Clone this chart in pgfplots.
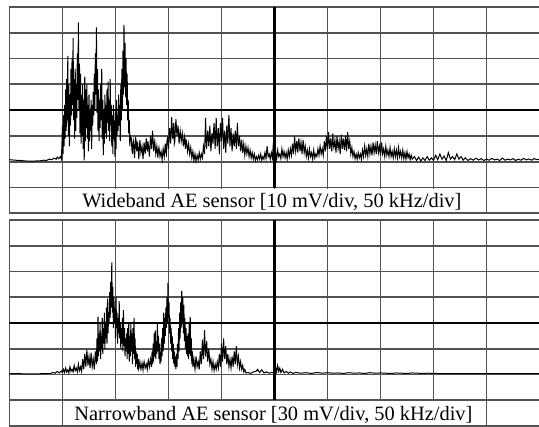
\documentclass[border=0pt]{standalone}
\usepackage{pgfplots}
\pgfplotsset{compat=1.18}
\usepackage{fontspec}
\setmainfont{Liberation Serif}

% oscilloscope-like panel: 10 x 8 divisions, trace baseline at 0
\pgfplotsset{scope/.style={
  scale only axis, width=530pt,
  xmin=0, xmax=10, ymin=-2, ymax=6,
  xtick={0,...,10}, ytick={-2,...,6},
  xticklabel=\empty, yticklabel=\empty,
  major tick length=0pt,
  grid=major,
  major grid style={black!68, line width=1.8pt},
  axis line style={black!68, line width=1.8pt},
  anchor=south west,
}}

\begin{document}
\begin{tikzpicture}
\useasboundingbox (0,0) rectangle (539pt,427pt);

% ---- wideband ----
\begin{axis}[scope, height=206.6pt, at={(9.5pt,213.6pt)}]
\draw[black, line width=2.3pt] (axis cs:0,2) -- (axis cs:10,2);
\draw[black, line width=2.3pt] (axis cs:5,-1) -- (axis cs:5,6);
\addplot[black, line width=1pt] coordinates {
(0,0.08)(0.1,0.06)(0.2,0.05)(0.3,0.03)(0.4,0.02)(0.5,0.03)(0.6,0.04)(0.65,0.06)(0.7,0.05)(0.75,0.1)(0.8,0.08)(0.84,0.14)(0.88,0.1)(0.9,0.18)(0.93,0.12)(0.96,0.2)(0.98,0.1)
(1.00,1.4)(1.01,0.3)(1.02,1.8)(1.03,0.6)(1.04,2.2)(1.05,0.9)(1.06,2.8)(1.07,1.2)(1.08,3.2)(1.09,1.6)
(1.10,4.1)(1.11,1.0)(1.12,3.0)(1.13,0.6)(1.14,2.6)(1.15,1.4)(1.16,3.6)(1.17,1.8)(1.18,4.0)(1.19,2.2)
(1.20,4.8)(1.21,1.6)(1.22,3.2)(1.23,0.9)(1.24,3.6)(1.25,1.2)(1.26,3.0)(1.27,1.7)(1.28,4.2)(1.29,2.4)
(1.30,5.4)(1.31,2.0)(1.32,3.8)(1.33,1.1)(1.34,3.4)(1.35,0.7)(1.36,2.6)(1.37,1.0)(1.38,3.0)(1.39,0.5)
(1.40,2.4)(1.41,0.05)(1.42,3.3)(1.43,0.8)(1.44,2.8)(1.45,1.3)(1.46,3.0)(1.47,0.9)(1.48,2.2)(1.49,0.4)
(1.50,2.6)(1.51,0.8)(1.52,2.0)(1.53,1.2)(1.54,2.4)(1.55,0.5)(1.56,2.2)(1.57,1.4)(1.58,2.7)(1.59,1.8)
(1.60,3.4)(1.61,2.0)(1.62,4.2)(1.63,2.6)(1.64,5.2)(1.65,1.9)(1.66,3.6)(1.67,1.2)(1.68,2.8)(1.69,0.8)
(1.70,2.4)(1.71,1.3)(1.72,3.0)(1.73,1.6)(1.74,3.6)(1.75,0.9)(1.76,2.4)(1.77,0.26)(1.78,2.0)(1.79,0.7)
(1.80,2.6)(1.81,1.1)(1.82,2.2)(1.83,0.9)(1.84,2.8)(1.85,1.5)(1.86,3.1)(1.87,1.2)(1.88,2.4)(1.89,0.8)
(1.90,3.2)(1.91,1.4)(1.92,2.2)(1.93,0.6)(1.94,1.8)(1.95,0.3)(1.96,2.2)(1.97,0.9)(1.98,1.6)(1.99,0.2)
(2.00,2.0)(2.01,0.5)(2.02,2.4)(2.03,1.0)(2.04,1.8)(2.05,1.2)(2.06,2.6)(2.07,1.4)(2.08,2.2)(2.09,0.8)
(2.10,3.0)(2.11,1.6)(2.12,3.6)(2.13,2.0)(2.14,4.3)(2.15,2.6)(2.16,5.3)(2.17,2.9)(2.18,4.6)(2.19,2.5)
(2.20,4.0)(2.21,2.2)(2.22,3.4)(2.23,1.6)(2.24,2.4)(2.25,1.1)(2.26,1.6)(2.27,0.6)(2.28,1.0)
(2.30,0.9)(2.31,0.45)(2.32,0.3)(2.33,0.7)(2.34,0.8)(2.36,0.15)(2.37,0.6)(2.38,0.95)(2.40,0.4)(2.41,0.75)(2.42,0.7)(2.44,0.1)(2.45,0.5)(2.46,0.85)(2.48,0.35)
(2.50,0.6)(2.52,0.1)(2.53,0.45)(2.54,0.75)(2.56,0.3)(2.58,0.9)(2.59,0.5)(2.60,0.45)(2.61,0.8)(2.62,0.65)(2.64,0.2)(2.65,0.6)(2.66,1.0)(2.68,0.5)
(2.69,0.9)(2.70,1.2)(2.72,0.4)(2.73,0.7)(2.74,0.8)(2.76,0.3)(2.78,0.6)(2.80,0.15)(2.81,0.45)(2.82,0.55)(2.84,0.2)(2.86,0.4)(2.88,0.08)
(2.90,0.5)(2.92,0.2)(2.94,0.7)(2.95,0.4)(2.96,0.3)(2.97,0.8)(2.98,0.9)(3.00,0.5)(3.01,1.0)(3.02,1.3)(3.04,0.7)(3.05,1.2)(3.06,1.73)(3.08,0.9)
(3.10,1.5)(3.11,0.7)(3.12,0.8)(3.13,1.3)(3.14,1.65)(3.16,1.0)(3.18,1.4)(3.20,0.7)(3.21,1.0)(3.22,1.2)(3.24,0.8)(3.26,1.1)(3.28,0.6)
(3.30,0.95)(3.32,0.5)(3.33,0.85)(3.34,0.8)(3.36,0.4)(3.38,0.7)(3.40,0.3)(3.42,0.55)(3.44,0.15)(3.46,0.4)(3.48,0.05)
(3.50,0.3)(3.52,0.02)(3.54,0.25)(3.56,0.08)(3.58,0.35)(3.60,0.1)(3.62,0.3)(3.64,0.15)(3.66,0.6)(3.68,0.3)
(3.70,1.7)(3.71,0.8)(3.72,0.5)(3.73,1.0)(3.74,1.2)(3.76,0.6)(3.78,1.4)(3.79,0.9)(3.80,0.4)(3.82,1.1)(3.84,0.7)(3.85,1.2)(3.86,1.5)(3.88,0.5)
(3.90,1.7)(3.91,1.0)(3.92,0.6)(3.94,1.3)(3.96,0.3)(3.97,1.0)(3.98,1.5)(4.00,0.8)(4.01,1.3)(4.02,1.7)(4.04,0.5)(4.06,1.2)(4.08,0.35)
(4.10,1.4)(4.11,0.9)(4.12,0.7)(4.13,1.4)(4.14,1.8)(4.16,0.6)(4.18,1.3)(4.19,0.8)(4.20,0.4)(4.22,1.1)(4.24,0.6)(4.26,1.2)(4.28,0.5)
(4.30,1.5)(4.31,0.9)(4.32,0.6)(4.34,1.0)(4.36,0.4)(4.38,0.85)(4.40,0.35)(4.42,0.7)(4.44,0.25)(4.46,0.6)(4.48,0.3)
(4.50,0.55)(4.52,0.2)(4.54,0.45)(4.56,0.15)(4.58,0.35)(4.60,0.1)(4.62,0.3)(4.64,0.05)(4.66,0.2)(4.68,0.08)
(4.70,0.25)(4.72,0.1)(4.74,0.3)(4.76,0.06)(4.78,0.2)(4.80,0.1)(4.82,0.35)(4.84,0.12)(4.86,0.6)(4.88,0.2)
(4.90,0.3)(4.92,0.1)(4.94,0.35)(4.96,0.15)(4.98,0.75)(5.00,0.2)(5.02,0.4)(5.04,0.1)(5.06,0.45)(5.08,0.2)
(5.10,0.3)(5.12,0.12)(5.14,0.5)(5.16,0.2)(5.18,0.4)(5.20,0.15)(5.22,0.35)(5.24,0.1)(5.26,0.45)(5.28,0.2)
(5.30,0.5)(5.32,0.25)(5.34,0.7)(5.36,0.3)(5.38,1.0)(5.39,0.6)(5.40,0.4)(5.42,0.8)(5.44,0.35)(5.45,0.7)(5.46,0.9)(5.48,0.4)
(5.50,0.75)(5.52,0.3)(5.54,0.85)(5.56,0.35)(5.58,0.6)(5.60,0.2)(5.62,0.45)(5.64,0.15)(5.66,0.5)(5.68,0.2)
(5.70,0.35)(5.72,0.1)(5.74,0.45)(5.76,0.15)(5.78,0.3)(5.80,0.2)(5.82,0.5)(5.84,0.25)(5.86,0.6)(5.88,0.3)
(5.90,0.5)(5.92,0.25)(5.94,0.8)(5.96,0.4)(5.98,1.0)(5.99,0.7)(6.00,0.5)(6.02,1.15)(6.03,0.8)(6.04,0.5)(6.06,0.9)(6.08,0.4)
(6.10,1.1)(6.11,0.7)(6.12,0.55)(6.14,0.85)(6.16,0.35)(6.18,1.0)(6.19,0.7)(6.20,0.5)(6.22,0.8)(6.24,0.3)(6.26,1.05)(6.28,0.5)
(6.30,0.9)(6.32,0.45)(6.34,1.0)(6.35,0.7)(6.36,0.4)(6.38,1.15)(6.40,0.5)(6.42,0.8)(6.44,0.3)(6.46,0.55)(6.48,0.2)
(6.50,0.4)(6.52,0.12)(6.54,0.3)(6.56,0.1)(6.58,0.35)(6.60,0.15)(6.62,0.3)(6.64,0.1)(6.66,0.45)(6.68,0.2)
(6.70,0.6)(6.72,0.25)(6.74,0.5)(6.76,0.2)(6.78,0.7)(6.80,0.3)(6.82,0.6)(6.84,0.25)(6.86,0.75)(6.88,0.35)
(6.90,0.65)(6.92,0.3)(6.94,0.8)(6.96,0.35)(6.98,0.6)(7.00,0.25)(7.02,0.75)(7.04,0.3)(7.06,0.5)(7.08,0.2)
(7.10,0.6)(7.12,0.25)(7.14,0.45)(7.16,0.2)(7.18,0.55)(7.20,0.2)(7.22,0.4)(7.24,0.15)(7.26,0.5)(7.28,0.2)
(7.30,0.45)(7.32,0.15)(7.34,0.55)(7.36,0.2)(7.38,0.4)(7.40,0.15)(7.42,0.45)(7.44,0.12)(7.46,0.35)(7.48,0.1)
(7.50,0.4)(7.52,0.15)(7.54,0.3)(7.56,0.08)(7.58,0.25)(7.60,0.1)
(7.64,0.2)(7.68,0.05)(7.72,0.18)(7.76,0.03)(7.80,0.15)(7.84,0.05)(7.88,0.2)(7.92,0.06)(7.96,0.15)(8.00,0.05)
(8.04,0.25)(8.08,0.08)(8.12,0.3)(8.16,0.1)(8.20,0.22)(8.24,0.05)(8.28,0.35)(8.32,0.1)(8.36,0.2)(8.40,0.08)
(8.44,0.3)(8.48,0.1)(8.52,0.2)(8.56,0.06)(8.60,0.15)(8.65,0.05)(8.70,0.12)(8.75,0.06)(8.80,0.14)(8.85,0.07)
(8.90,0.12)(8.95,0.05)(9.00,0.1)(9.05,0.06)(9.10,0.13)(9.15,0.07)(9.20,0.1)(9.25,0.05)(9.30,0.14)(9.35,0.06)
(9.40,0.1)(9.45,0.07)(9.50,0.12)(9.55,0.05)(9.60,0.1)(9.65,0.06)(9.70,0.13)(9.75,0.07)(9.80,0.11)(9.85,0.06)
(9.90,0.12)(9.95,0.08)(10.0,0.1)
};
\fill[white] ([xshift=0.95pt,yshift=0.95pt]axis cs:1,-2) rectangle ([xshift=-0.95pt,yshift=-0.95pt]axis cs:9,-1);
\node[anchor=base, font=\fontsize{20.4}{22}\selectfont, inner sep=0pt] at (axis cs:4.95,-1.77)
  {Wideband AE sensor [10 mV/div, 50 kHz/div]};
\end{axis}

% ---- narrowband ----
\begin{axis}[scope, height=206pt, at={(9.5pt,1pt)}]
\draw[black, line width=2.3pt] (axis cs:0,2) -- (axis cs:10,2);
\draw[black, line width=2.3pt] (axis cs:5,-1) -- (axis cs:5,6);
\addplot[black, line width=1pt] coordinates {
(0,0.03)(0.2,0.03)(0.4,0.02)(0.6,0.03)(0.78,0.04)(0.82,0.08)(0.86,0.05)(0.9,0.12)(0.94,0.06)(0.98,0.14)(1.0,0.08)
(1.02,0.2)(1.04,0.08)(1.06,0.25)(1.08,0.1)(1.10,0.18)(1.12,0.06)(1.14,0.3)(1.16,0.12)(1.18,0.2)(1.20,0.1)
(1.22,0.35)(1.24,0.15)(1.26,0.25)(1.28,0.1)(1.30,0.4)(1.32,0.15)(1.34,0.3)(1.36,0.12)
(1.38,0.6)(1.40,0.2)(1.42,0.8)(1.44,0.3)(1.46,0.95)(1.48,0.35)(1.50,0.7)(1.52,0.25)(1.54,0.85)(1.56,0.3)
(1.58,0.6)(1.60,0.2)(1.62,0.9)(1.64,0.4)
(1.65,1.4)(1.66,0.5)(1.67,2.25)(1.68,0.7)(1.69,1.6)(1.70,0.9)(1.71,2.0)(1.72,0.6)(1.73,1.5)(1.74,1.0)
(1.75,2.2)(1.76,0.8)(1.77,1.8)(1.78,1.2)(1.79,2.4)(1.80,1.0)(1.81,2.0)(1.82,1.4)(1.83,2.6)(1.84,1.2)
(1.85,2.95)(1.86,1.6)(1.87,2.4)(1.88,2.0)(1.89,3.2)(1.90,2.2)(1.91,3.6)(1.92,2.6)(1.93,4.35)(1.94,2.4)
(1.95,3.4)(1.96,1.8)(1.97,3.0)(1.98,2.0)(1.99,2.6)(2.00,1.4)(2.01,3.0)(2.02,1.8)(2.03,2.4)(2.04,1.2)
(2.05,2.2)(2.06,1.6)(2.07,2.85)(2.08,1.4)(2.09,2.0)(2.10,1.0)(2.11,1.8)(2.12,1.2)(2.13,2.2)(2.14,0.9)
(2.15,2.5)(2.16,1.1)(2.17,1.8)(2.18,0.7)(2.19,1.4)(2.20,0.9)(2.21,1.6)(2.22,0.6)(2.23,1.8)(2.24,0.8)
(2.25,2.0)(2.26,0.5)(2.27,1.5)(2.28,0.7)(2.29,2.0)(2.30,0.9)(2.31,1.6)(2.32,0.4)(2.33,1.8)(2.34,0.8)
(2.35,2.2)(2.36,0.6)(2.37,1.4)(2.38,0.3)(2.39,0.9)(2.40,0.4)(2.41,0.8)(2.42,0.2)(2.43,0.6)(2.44,0.25)
(2.46,0.5)(2.47,0.3)(2.48,0.2)(2.50,0.45)(2.52,0.18)(2.53,0.4)(2.54,0.5)(2.56,0.25)(2.58,0.4)(2.60,0.2)(2.61,0.45)(2.62,0.55)(2.64,0.3)
(2.66,0.6)(2.68,0.3)
(2.69,0.9)(2.70,0.4)(2.71,1.2)(2.72,0.5)(2.73,1.6)(2.74,0.7)(2.75,1.7)(2.76,0.6)(2.77,1.3)(2.78,0.8)
(2.79,2.0)(2.80,0.9)(2.81,1.5)(2.82,0.6)(2.83,1.2)(2.84,0.4)(2.85,0.9)(2.86,0.5)(2.87,1.4)(2.88,0.7)
(2.89,1.8)(2.90,0.9)(2.91,2.4)(2.92,1.2)(2.93,2.2)(2.94,1.5)(2.95,2.6)(2.96,1.8)(2.97,3.0)(2.98,2.0)
(2.99,3.56)(3.00,2.2)(3.01,2.8)(3.02,1.6)(3.03,2.2)(3.04,1.2)(3.05,1.8)(3.06,0.9)(3.07,1.5)(3.08,0.6)
(3.09,1.2)(3.10,0.4)(3.11,0.9)(3.12,0.3)(3.13,0.7)(3.14,0.2)(3.15,0.8)(3.16,0.3)(3.17,1.2)(3.18,0.6)
(3.19,1.8)(3.20,0.9)(3.21,2.4)(3.22,1.4)(3.23,2.8)(3.24,1.8)(3.25,3.25)(3.26,2.0)(3.27,3.0)(3.28,1.6)
(3.29,2.7)(3.30,1.3)(3.31,2.2)(3.32,1.0)(3.33,1.8)(3.34,0.8)(3.35,1.5)(3.36,0.7)(3.37,1.6)(3.38,0.6)
(3.39,2.0)(3.40,0.8)(3.41,2.24)(3.42,0.7)(3.43,1.4)(3.44,0.4)(3.45,0.9)(3.46,0.3)
(3.48,0.6)(3.49,0.35)(3.50,0.2)(3.52,0.7)(3.54,0.3)(3.56,0.5)(3.58,0.2)(3.60,0.9)(3.61,0.6)(3.62,0.4)(3.64,1.35)(3.65,0.9)(3.66,0.6)
(3.68,1.72)(3.69,1.1)(3.70,0.7)(3.72,1.3)(3.73,0.9)(3.74,0.5)(3.76,1.0)(3.78,0.4)(3.80,0.6)(3.82,0.2)(3.84,0.5)(3.86,0.15)
(3.88,0.4)(3.90,0.2)(3.92,0.5)(3.94,0.25)(3.96,0.8)(3.98,0.3)(4.00,1.2)(4.01,0.8)(4.02,0.5)(4.04,1.4)(4.05,0.9)(4.06,0.6)
(4.08,1.1)(4.10,0.4)(4.12,0.8)(4.14,0.3)(4.16,0.6)(4.18,0.25)(4.20,0.7)(4.22,0.3)(4.24,0.9)(4.26,0.4)
(4.28,1.1)(4.29,0.7)(4.30,0.4)(4.32,0.7)(4.34,0.25)(4.36,0.5)(4.38,0.2)(4.40,0.35)(4.42,0.1)(4.44,0.2)(4.46,0.06)
(4.50,0.08)(4.55,0.04)(4.60,0.1)(4.65,0.12)(4.68,0.2)(4.72,0.08)(4.76,0.18)(4.80,0.06)(4.85,0.1)(4.90,0.05)
(4.95,0.08)(5.00,0.06)(5.02,0.3)(5.04,0.1)(5.06,0.35)(5.08,0.12)(5.10,0.25)(5.12,0.08)(5.15,0.2)(5.18,0.06)
(5.22,0.12)(5.26,0.05)(5.30,0.1)(5.35,0.04)(5.40,0.08)(5.5,0.05)(5.6,0.07)(5.7,0.04)(5.8,0.08)(5.9,0.05)
(6.0,0.07)(6.1,0.05)(6.2,0.06)(6.3,0.04)(6.4,0.07)(6.5,0.05)(6.6,0.06)(6.7,0.04)(6.8,0.07)(6.9,0.05)
(7.0,0.06)(7.1,0.05)(7.2,0.04)(7.3,0.06)(7.4,0.05)(7.5,0.04)(7.6,0.06)(7.7,0.05)(7.8,0.04)(7.9,0.05)
(8.0,0.04)(8.5,0.03)(9.0,0.03)(9.5,0.03)(10,0.03)
};
\fill[white] ([xshift=0.95pt,yshift=0.95pt]axis cs:1,-2) rectangle ([xshift=-0.95pt,yshift=-0.95pt]axis cs:9,-1);
\node[anchor=base, font=\fontsize{20.4}{22}\selectfont, inner sep=0pt] at (axis cs:4.98,-1.79)
  {Narrowband AE sensor [30 mV/div, 50 kHz/div]};
\end{axis}
\end{tikzpicture}
\end{document}
